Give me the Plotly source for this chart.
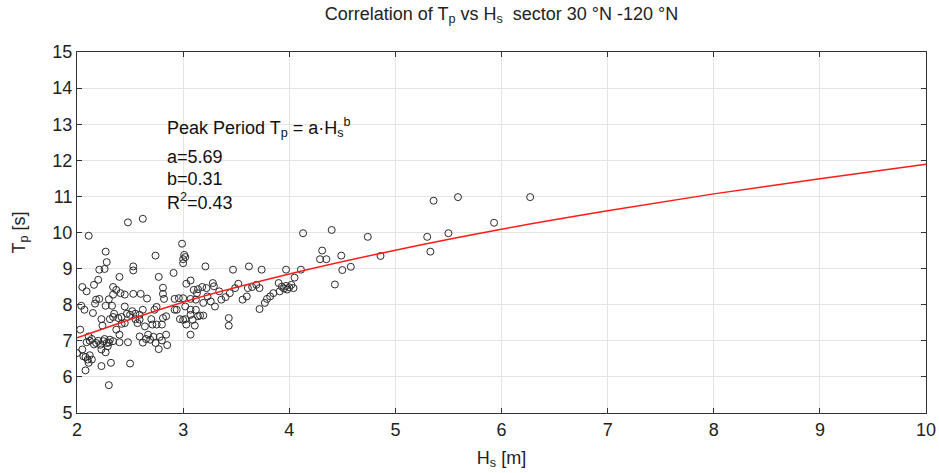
import plotly.graph_objects as go

hs = [2.11, 2.48, 2.62, 2.27, 2.28, 2.21, 2.26, 2.53, 2.53, 2.74, 2.77, 2.40, 2.05, 2.09, 2.16, 2.20,
      2.34, 2.37, 2.41, 2.34, 2.45, 2.53, 2.66, 2.81, 2.81, 2.82, 2.91, 2.92, 2.04, 2.07, 2.18, 2.21,
      2.27, 2.33, 2.15, 2.17, 2.34, 2.39, 2.42, 2.45, 2.50, 2.52, 2.59, 2.62, 2.73, 2.75, 2.59, 2.57,
      2.55, 2.03, 2.23, 2.24, 2.31, 2.42, 2.45, 2.37, 2.40, 2.64, 2.67, 2.71, 2.75, 2.80, 2.81, 2.84,
      2.92, 2.84, 2.78, 2.72, 2.69, 2.74, 2.80, 2.85, 2.77, 2.59, 2.48, 2.40, 2.11, 2.14, 2.09, 2.18,
      2.22, 2.25, 2.28, 2.31, 2.34, 2.29, 2.23, 2.27, 2.00, 2.05, 2.06, 2.10, 2.11, 2.14, 2.08, 2.23,
      2.32, 2.50, 2.30, 2.12, 2.20, 2.30, 2.16, 2.26, 2.35, 2.47, 2.55, 2.60, 2.30, 2.70, 2.65, 2.62,
      2.08, 2.12,
      2.99, 3.01, 3.00, 3.02, 3.00, 3.03, 3.07, 3.21, 3.47, 3.62, 3.74, 3.90, 3.91, 3.85, 3.82, 3.79,
      3.72, 3.77, 3.69, 3.72, 3.65, 3.61, 3.60, 3.56, 3.52, 3.49, 3.44, 3.40, 3.36, 3.34, 3.29, 3.28,
      3.22, 3.23, 3.26, 3.30, 3.19, 3.18, 3.14, 3.13, 3.12, 3.10, 3.07, 3.00, 2.96, 3.02, 2.94, 3.07,
      3.12, 3.16, 3.19, 3.07, 3.00, 2.97, 3.02, 3.09, 3.14, 3.03, 3.11, 3.07, 3.43, 3.43,
      3.95, 3.97, 4.00, 3.98, 4.02, 3.93, 4.04, 3.97, 4.11, 4.05, 4.13, 4.40, 4.74, 4.31, 4.29, 4.35,
      4.49, 4.50, 4.58, 4.43, 4.86, 5.30, 5.33, 5.36, 5.50, 5.59, 5.93, 6.27]
tp = [9.91, 10.28, 10.38, 9.47, 9.18, 8.97, 8.99, 9.06, 8.95, 9.36, 8.77, 8.77, 8.49, 8.37, 8.55, 8.69,
      8.49, 8.41, 8.32, 8.28, 8.28, 8.30, 8.17, 8.47, 8.30, 8.16, 8.88, 8.16, 7.97, 7.86, 8.14, 8.16,
      7.97, 7.97, 7.77, 8.03, 7.66, 7.63, 7.66, 7.95, 7.72, 7.82, 7.72, 7.86, 7.86, 7.94, 7.59, 7.49,
      7.60, 7.31, 7.60, 7.42, 7.60, 7.47, 7.49, 7.31, 7.17, 7.40, 7.17, 7.45, 7.45, 7.45, 7.63, 7.68,
      7.86, 7.17, 7.11, 7.11, 7.03, 6.94, 7.01, 6.88, 6.77, 7.12, 6.96, 6.96, 7.12, 7.05, 6.96, 6.94,
      6.89, 6.99, 6.94, 7.03, 6.99, 6.85, 6.76, 6.68, 6.66, 6.76, 6.57, 6.48, 6.39, 6.48, 6.18, 6.30,
      6.39, 6.37, 5.77, 7.00, 7.00, 6.95, 6.90, 7.05, 7.75, 7.75, 7.75, 8.30, 8.15, 7.60, 7.05, 6.95,
      6.55, 6.60,
      9.69, 9.38, 9.26, 9.32, 9.15, 8.58, 8.67, 9.06, 8.97, 9.06, 8.97, 8.60, 8.37, 8.32, 8.23, 8.16,
      7.88, 8.05, 8.55, 8.46, 8.49, 8.46, 8.23, 8.14, 8.58, 8.46, 8.32, 8.21, 8.14, 8.37, 8.51, 8.60,
      8.46, 8.23, 8.09, 7.95, 8.05, 8.49, 8.43, 8.32, 8.14, 8.41, 8.16, 8.18, 8.18, 7.95, 7.86, 7.86,
      7.86, 7.70, 7.70, 7.72, 7.58, 7.60, 7.60, 7.58, 7.68, 7.45, 7.42, 7.17, 7.63, 7.42,
      8.45, 8.52, 8.48, 8.42, 8.55, 8.50, 8.46, 8.97, 8.97, 8.75, 9.98, 10.07, 9.88, 9.50, 9.26, 9.26,
      9.36, 8.96, 9.05, 8.56, 9.35, 9.88, 9.47, 10.88, 9.98, 10.98, 10.27, 10.98]

# Fitted curve at integer Hs
fit_hs = [2, 3, 4, 5, 6, 7, 8, 9, 10]
fit_tp = [7.08, 8.07, 8.85, 9.51, 10.09, 10.60, 11.07, 11.49, 11.89]

x_ticks = [2, 3, 4, 5, 6, 7, 8, 9, 10]
y_ticks = [5, 6, 7, 8, 9, 10, 11, 12, 13, 14, 15]

FONT = "Liberation Sans, Arial, sans-serif"
FS = 18

fig = go.Figure()
fig.add_trace(go.Scatter(
    x=hs, y=tp, mode="markers",
    marker=dict(symbol="circle-open", size=7, color="#2a2a2a", line=dict(width=1, color="#2a2a2a")),
    showlegend=False, hoverinfo="x+y"))
fig.add_trace(go.Scatter(
    x=fit_hs, y=fit_tp, mode="lines", line=dict(color="#ff1a1a", width=1.5, shape="spline"),
    showlegend=False))

axis_common = dict(
    showline=True, linecolor="#333333", linewidth=1, mirror="allticks",
    ticks="inside", ticklen=5, tickcolor="#333333",
    showgrid=True, gridcolor="#e4e4e4", gridwidth=1, zeroline=False,
    tickfont=dict(family=FONT, size=FS, color="#222222"),
    automargin=False,
)

fig.update_xaxes(range=[2, 10], tickvals=x_ticks,
                 title=dict(text="H<sub>s</sub> [m]", font=dict(family=FONT, size=FS, color="#222222"), standoff=12),
                 **axis_common)
fig.update_yaxes(range=[5, 15], tickvals=y_ticks,
                 title=dict(text="T<sub>p</sub> [s]", font=dict(family=FONT, size=FS, color="#222222"), standoff=22),
                 **axis_common)

annot_font = dict(family=FONT, size=FS, color="#111111")
lines = [
    ("Peak Period T<sub>p</sub> = a·H<sub>s</sub><sup>b</sup>", 12.92),
    ("a=5.69", 12.09),
    ("b=0.31", 11.48),
    ("R<sup>2</sup>=0.43", 10.87),
]
for txt, yv in lines:
    fig.add_annotation(x=2.83, y=yv, xref="x", yref="y", text=txt, showarrow=False,
                       xanchor="left", yanchor="middle", align="left", font=annot_font)

fig.update_layout(
    width=939, height=473,
    margin=dict(l=77, r=13, t=52, b=60),
    paper_bgcolor="white", plot_bgcolor="white",
    title=dict(text="Correlation of T<sub>p</sub> vs H<sub>s</sub>  sector 30 °N -120 °N",
               x=0.5, xref="paper", xanchor="center", y=0.985, yanchor="top",
               font=dict(family=FONT, size=FS, color="#222222")),
)

fig.write_html("out.html")
